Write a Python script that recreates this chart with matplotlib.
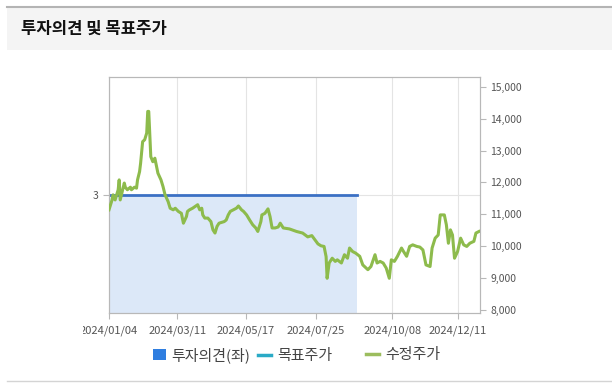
import matplotlib
matplotlib.use('Agg')
import matplotlib.pyplot as plt
from matplotlib.patches import Rectangle, Patch
from matplotlib.lines import Line2D
from matplotlib.transforms import Bbox, TransformedBbox
import pandas as pd

plt.rcParams['font.family'] = ['Noto Sans CJK KR', 'DejaVu Sans']

title = '투자의견 및 목표주가'

# 수정주가
price_dates = ['2024-01-04', '2024-01-07', '2024-01-08', '2024-01-10', '2024-01-11', '2024-01-13',
               '2024-01-14', '2024-01-15', '2024-01-17', '2024-01-19', '2024-01-20', '2024-01-22',
               '2024-01-25', '2024-01-26', '2024-01-29', '2024-01-31', '2024-02-01', '2024-02-03',
               '2024-02-04', '2024-02-06', '2024-02-08', '2024-02-09', '2024-02-10', '2024-02-11',
               '2024-02-12', '2024-02-13', '2024-02-14', '2024-02-16', '2024-02-18', '2024-02-19',
               '2024-02-21', '2024-02-24', '2024-02-26', '2024-02-28', '2024-03-02', '2024-03-04',
               '2024-03-07', '2024-03-09', '2024-03-12', '2024-03-15', '2024-03-17', '2024-03-20',
               '2024-03-21', '2024-03-23', '2024-03-26', '2024-03-31', '2024-04-02', '2024-04-04',
               '2024-04-05', '2024-04-07', '2024-04-10', '2024-04-13', '2024-04-15', '2024-04-17',
               '2024-04-19', '2024-04-21', '2024-04-26', '2024-04-28', '2024-04-30', '2024-05-02',
               '2024-05-05', '2024-05-08', '2024-05-10', '2024-05-13', '2024-05-15', '2024-05-18',
               '2024-05-21', '2024-05-24', '2024-05-27', '2024-05-29', '2024-06-01', '2024-06-02',
               '2024-06-05', '2024-06-08', '2024-06-10', '2024-06-12', '2024-06-15', '2024-06-18',
               '2024-06-20', '2024-06-23', '2024-06-29', '2024-07-06', '2024-07-12', '2024-07-17',
               '2024-07-21', '2024-07-24', '2024-07-27', '2024-07-30', '2024-08-02', '2024-08-04',
               '2024-08-05', '2024-08-07', '2024-08-09', '2024-08-10', '2024-08-13', '2024-08-15',
               '2024-08-19', '2024-08-22', '2024-08-25', '2024-08-27', '2024-08-30', '2024-09-02',
               '2024-09-06', '2024-09-09', '2024-09-14', '2024-09-17', '2024-09-21', '2024-09-23',
               '2024-09-26', '2024-09-29', '2024-10-02', '2024-10-05', '2024-10-07', '2024-10-10',
               '2024-10-13', '2024-10-17', '2024-10-19', '2024-10-22', '2024-10-25', '2024-10-28',
               '2024-11-01', '2024-11-04', '2024-11-07', '2024-11-10', '2024-11-14', '2024-11-16',
               '2024-11-19', '2024-11-22', '2024-11-24', '2024-11-28', '2024-11-30', '2024-12-02',
               '2024-12-04', '2024-12-06', '2024-12-08', '2024-12-11', '2024-12-14', '2024-12-17',
               '2024-12-20', '2024-12-23', '2024-12-27', '2024-12-29', '2025-01-01']
price_vals = [11140, 11450, 11610, 11450, 11560, 11770,
              12080, 11450, 11710, 11980, 11850, 11770,
              11850, 11770, 11850, 11820, 12080, 12340,
              12600, 13280, 13340, 13440, 13550, 14230,
              14230, 13550, 12810, 12650, 12760, 12600,
              12290, 12080, 11870, 11610, 11400, 11190,
              11140, 11190, 11090, 11030, 10720, 10930,
              11090, 11140, 11190, 11300, 11140, 11190,
              10980, 10880, 10880, 10770, 10510, 10410,
              10620, 10720, 10770, 10820, 10980, 11090,
              11140, 11190, 11260, 11140, 11090, 10980,
              10820, 10670, 10570, 10460, 10770, 10980,
              11030, 11170, 10930, 10570, 10570, 10600,
              10720, 10570, 10540, 10460, 10410, 10290,
              10330, 10200, 10070, 10010, 9990, 9670,
              8990, 9470, 9570, 9620, 9520, 9570,
              9470, 9730, 9620, 9940, 9830, 9780,
              9680, 9410, 9260, 9360, 9730, 9470,
              9520, 9470, 9310, 8990, 9570, 9520,
              9680, 9940, 9830, 9680, 9990, 10040,
              9990, 9970, 9880, 9410, 9360, 9940,
              10250, 10350, 10980, 10980, 10670, 10090,
              10510, 10350, 9620, 9830, 10250, 10040,
              9990, 10090, 10150, 10410, 10460]

# 투자의견 (left axis)
opinion_dates = ['2024-01-04', '2024-09-03']
opinion_vals = [3, 3]

xtick_labels = ['2024/01/04', '2024/03/11', '2024/05/17', '2024/07/25', '2024/10/08', '2024/12/11']
price_ticks = [8000, 9000, 10000, 11000, 12000, 13000, 14000, 15000]

pdates = pd.to_datetime(price_dates)
odates = pd.to_datetime(opinion_dates)
xticks = pd.to_datetime(xtick_labels, format='%Y/%m/%d')

fig = plt.figure(figsize=(6.12, 3.87), dpi=100)
fig.patch.set_facecolor('white')

# header band
fig.patches.append(Rectangle((7/612, 1-50/387), 1, 43/387, transform=fig.transFigure,
                             facecolor='#f4f4f4', edgecolor='none', zorder=0))
fig.add_artist(Line2D([7/612, 1], [1-7/387, 1-7/387], color='#b4b4b4', lw=1.5))
fig.add_artist(Line2D([7/612, 1], [1-381/387, 1-381/387], color='#d4d4d4', lw=1))
fig.text(21/612, 1-29/387, title, fontsize=12, fontweight='bold', va='center', ha='left', color='#111111')

ax = fig.add_axes([109/612, 1-313/387, 371/612, 236/387])
ax2 = ax.twinx()

ax.fill_between(odates, 0, opinion_vals, color='#dce8f8', lw=0, zorder=1)
ax.plot(odates, opinion_vals, color='#3b70c4', lw=2, zorder=2)
ax.set_ylim(1, 5)
ax.set_yticks([3])
ax.set_yticklabels(['3'])
ax.set_xlim(pd.Timestamp('2024-01-04'), pd.Timestamp('2025-01-02'))
ax.set_xticks(xticks)
ax.set_xticklabels(xtick_labels)
ax.grid(True, color='#e4e4e4', lw=0.8)
ax.set_axisbelow(True)

ax2.plot(pdates, price_vals, color='#8dbb4c', lw=2.2, zorder=3)
ax2.set_ylim(7900, 15310)
ax2.set_yticks(price_ticks)
ax2.set_yticklabels(['{:,}'.format(v) for v in price_ticks])

for a in (ax, ax2):
    for s in a.spines.values():
        s.set_color('#b8b8b8')
    a.tick_params(colors='#b8b8b8', labelcolor='#555555', labelsize=7.5, length=4, width=0.8)
ax.tick_params(axis='x', pad=5, labelsize=8)

# first date label is cut at the left in the original
first = ax.get_xticklabels()[0]
first.set_clip_box(TransformedBbox(Bbox([[83/612, 0], [1, 1]]), fig.transFigure))
first.set_clip_on(True)

leg_y = 1 - 355/387
leg_kw = dict(loc='center left', frameon=False, fontsize=10.8, borderpad=0, borderaxespad=0,
              handlelength=0.85, handleheight=0.75, handletextpad=0.4, columnspacing=0.5,
              labelcolor='#444444')
leg1 = fig.legend([Patch(facecolor='#2f7ee0', edgecolor='none'),
                   Line2D([], [], color='#2aaac6', lw=2.5)],
                  ['투자의견(좌)', '목표주가'], ncol=2, bbox_to_anchor=(153/612, leg_y), **leg_kw)
leg2 = fig.legend([Line2D([], [], color='#9cbd5e', lw=2.5)], ['수정주가'],
                  bbox_to_anchor=(366/612, leg_y), **leg_kw)

fig.savefig('out.png', dpi=100)
